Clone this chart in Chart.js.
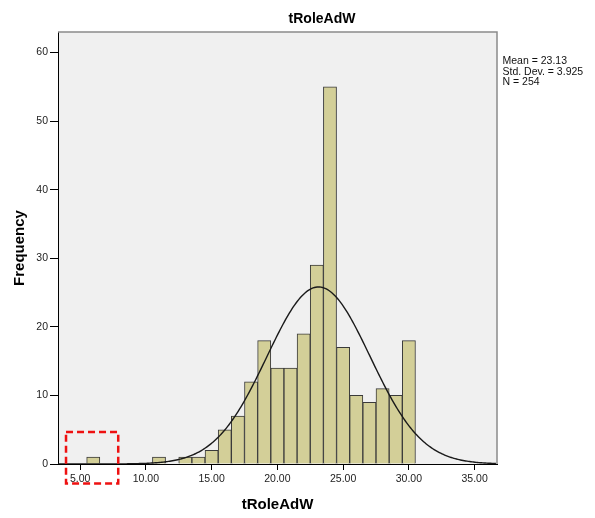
<!DOCTYPE html>
<html lang="en">
<head>
    <meta charset="UTF-8">
    <title>tRoleAdW</title>
    <script src="https://cdnjs.cloudflare.com/ajax/libs/Chart.js/4.4.1/chart.umd.min.js"></script>
    <style>
        html, body { margin: 0; padding: 0; background: #fff; }
        .chart-container { position: relative; width: 595px; height: 518px; }
    </style>
</head>
<body>
    <div class="chart-container">
        <canvas id="histChart" width="595" height="518"></canvas>
    </div>
    <script>
        // Histogram bins (bin width 1, centred on whole numbers)
        const binCenters = [6, 7, 8, 9, 10, 11, 12, 13, 14, 15, 16, 17, 18, 19, 20, 21, 22, 23, 24, 25, 26, 27, 28, 29, 30];
        const frequencies = [1, 0, 0, 0, 0, 1, 0, 1, 1, 2, 5, 7, 12, 18, 14, 14, 19, 29, 55, 17, 10, 9, 11, 10, 18];

        // Axis ticks
        const xTickValues = [5, 10, 15, 20, 25, 30, 35];
        const yTickValues = [0, 10, 20, 30, 40, 50, 60];
        const xRange = [3.32, 36.7];
        const yRange = [0, 63];

        // Summary statistics shown in the right margin
        const statMean = 23.13;
        const statSD = 3.925;
        const statN = 254;
        const binWidth = 1;
        const statLines = ['Mean = 23.13', 'Std. Dev. = 3.925', 'N = 254'];

        // Dashed highlight box (data units: x from..to, y from..to)
        const highlightX = [3.93, 7.9];
        const highlightY = [-2.86, 4.67];

        const FONT = '"Liberation Sans", Arial, sans-serif';

        // Fitted normal curve from the stats above
        const curvePoints = [];
        for (let x = xRange[0]; x <= xRange[1] + 1e-9; x += 0.1) {
            const z = (x - statMean) / statSD;
            curvePoints.push({ x: x, y: statN * binWidth / (statSD * Math.sqrt(2 * Math.PI)) * Math.exp(-0.5 * z * z) });
        }

        const barPoints = binCenters.map((c, i) => ({ x: c, y: frequencies[i] }));

        const framePlugin = {
            id: 'frame',
            beforeDraw(chart) {
                const { ctx, chartArea: a } = chart;
                ctx.save();
                ctx.fillStyle = '#f0f0f0';
                ctx.fillRect(a.left, a.top, a.right - a.left, a.bottom - a.top);
                ctx.restore();
            },
            afterDraw(chart) {
                const { ctx, chartArea: a, scales } = chart;
                ctx.save();
                // top / right frame
                ctx.strokeStyle = '#8a8a8a';
                ctx.lineWidth = 1.5;
                ctx.beginPath();
                ctx.moveTo(a.left, a.top);
                ctx.lineTo(a.right, a.top);
                ctx.lineTo(a.right, a.bottom);
                ctx.stroke();

                // title
                ctx.fillStyle = '#000';
                ctx.font = 'bold 14px ' + FONT;
                ctx.textAlign = 'center';
                ctx.textBaseline = 'alphabetic';
                ctx.fillText('tRoleAdW', 322, 23);

                // stats
                ctx.font = '10.5px ' + FONT;
                ctx.textAlign = 'left';
                ctx.fillStyle = '#111';
                statLines.forEach((s, i) => ctx.fillText(s, 502.5, 64 + i * 10.5));

                // red dashed box
                const x0 = scales.x.getPixelForValue(highlightX[0]);
                const x1 = scales.x.getPixelForValue(highlightX[1]);
                const y0 = scales.y.getPixelForValue(highlightY[1]);
                const y1 = scales.y.getPixelForValue(highlightY[0]);
                ctx.strokeStyle = '#ee1111';
                ctx.lineWidth = 2.5;
                ctx.setLineDash([7, 4]);
                ctx.strokeRect(x0, y0, x1 - x0, y1 - y0);
                ctx.restore();
            }
        };

        new Chart(document.getElementById('histChart'), {
            type: 'bar',
            data: {
                datasets: [
                    {
                        type: 'line',
                        data: curvePoints,
                        borderColor: '#1a1a1a',
                        borderWidth: 1.4,
                        pointRadius: 0,
                        tension: 0,
                        fill: false,
                        order: 0
                    },
                    {
                        type: 'bar',
                        data: barPoints,
                        backgroundColor: '#d3cf98',
                        borderColor: '#3a3a3a',
                        borderWidth: 1,
                        borderSkipped: 'start',
                        barPercentage: 1,
                        categoryPercentage: 1,
                        order: 1
                    }
                ]
            },
            options: {
                responsive: false,
                animation: false,
                devicePixelRatio: 1,
                layout: { padding: { top: 32, right: 98, left: 0, bottom: 0 } },
                plugins: {
                    legend: { display: false },
                    tooltip: { enabled: false },
                    title: { display: false }
                },
                scales: {
                    x: {
                        type: 'linear',
                        min: xRange[0],
                        max: xRange[1],
                        offset: false,
                        z: 1,
                        afterBuildTicks: s => { s.ticks = xTickValues.map(v => ({ value: v })); },
                        afterFit: s => { s.height = 54; },
                        grid: { display: true, offset: false, drawOnChartArea: false, drawTicks: true, tickLength: 6, color: '#000' },
                        border: { display: true, color: '#000', width: 1 },
                        ticks: {
                            padding: 3,
                            color: '#222',
                            font: { family: FONT, size: 10.5 },
                            callback: v => Number(v).toFixed(2)
                        },
                        title: {
                            display: true,
                            text: 'tRoleAdW',
                            color: '#000',
                            font: { family: FONT, size: 15, weight: 'bold', lineHeight: 1.2 },
                            padding: { top: 0, bottom: 4 }
                        }
                    },
                    y: {
                        type: 'linear',
                        min: yRange[0],
                        max: yRange[1],
                        afterBuildTicks: s => { s.ticks = yTickValues.map(v => ({ value: v })); },
                        afterFit: s => { s.width = 58; },
                        grid: { display: true, offset: false, drawOnChartArea: false, drawTicks: true, tickLength: 8, color: '#000' },
                        border: { display: true, color: '#000', width: 1 },
                        ticks: {
                            padding: 2,
                            color: '#222',
                            font: { family: FONT, size: 10.5 }
                        },
                        title: {
                            display: true,
                            text: 'Frequency',
                            color: '#000',
                            font: { family: FONT, size: 15, weight: 'bold', lineHeight: 1.2 },
                            padding: { top: 11, bottom: 0 }
                        }
                    }
                }
            },
            plugins: [framePlugin]
        });
    </script>
</body>
</html>
